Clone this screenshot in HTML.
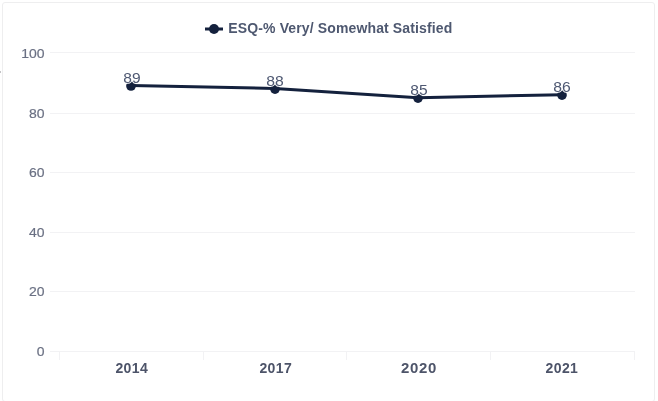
<!DOCTYPE html>
<html lang="en">
<head>
<meta charset="utf-8">
<title>ESQ-% Very/ Somewhat Satisfied</title>
<style>
  html, body { margin: 0; padding: 0; background: #ffffff; }
  body { width: 658px; height: 401px; overflow: hidden; position: relative;
         font-family: "Liberation Sans", sans-serif; }
  .card { position: absolute; left: 2px; top: 2px; width: 653px; height: 400px;
          box-sizing: border-box; border: 1px solid #eeeeef; border-radius: 3px; background: #fff; }
  .speck { position: absolute; left: 0; top: 71px; width: 1px; height: 2px; background: #c4c4c6; }
  svg { position: absolute; left: 0; top: 0; }
  text { font-family: "Liberation Sans", sans-serif; }
  .grid line { stroke: #f2f2f4; stroke-width: 1; shape-rendering: crispEdges; }
  .ticks line { stroke: #f2f2f4; stroke-width: 1; shape-rendering: crispEdges; }
  .ylab text { font-size: 13.5px; fill: #6a7083; text-anchor: end; stroke: #6a7083; stroke-width: 0.2px; }
  .xlab text { font-size: 14px; font-weight: 700; fill: #4d5469; text-anchor: middle; letter-spacing: 0.4px; }
  .dlab text { font-size: 14.4px; fill: #4e5872; text-anchor: middle;
               stroke: #ffffff; stroke-width: 1.7px; stroke-linejoin: round; paint-order: stroke fill; }
  .legend text { font-size: 14px; font-weight: 700; fill: #4e5870; letter-spacing: 0.13px; }
</style>
</head>
<body>
<div class="card"></div>
<div class="speck"></div>
<svg width="658" height="401" viewBox="0 0 658 401">
  <g class="grid">
    <line x1="50" x2="635" y1="52.5" y2="52.5"/>
    <line x1="50" x2="635" y1="113.5" y2="113.5"/>
    <line x1="50" x2="635" y1="172.5" y2="172.5"/>
    <line x1="50" x2="635" y1="232.5" y2="232.5"/>
    <line x1="50" x2="635" y1="291.5" y2="291.5"/>
    <line x1="50" x2="635" y1="351.5" y2="351.5"/>
  </g>
  <g class="ticks">
    <line x1="59.5" x2="59.5" y1="351" y2="360"/>
    <line x1="203.5" x2="203.5" y1="351" y2="360"/>
    <line x1="346.5" x2="346.5" y1="351" y2="360"/>
    <line x1="490.5" x2="490.5" y1="351" y2="360"/>
    <line x1="634.5" x2="634.5" y1="351" y2="360"/>
  </g>
  <g class="ylab">
    <text transform="translate(44.5 58) scale(1.035 1)">100</text>
    <text transform="translate(44.5 118) scale(1.035 1)">80</text>
    <text transform="translate(44.5 177) scale(1.035 1)">60</text>
    <text transform="translate(44.5 237) scale(1.035 1)">40</text>
    <text transform="translate(44.5 296) scale(1.035 1)">20</text>
    <text transform="translate(44.5 356) scale(1.035 1)">0</text>
  </g>
  <g class="xlab">
    <text x="131.8" y="373">2014</text>
    <text x="275.8" y="373">2017</text>
    <text transform="translate(419 373) scale(1.07 1)" style="letter-spacing:0.68px">2020</text>
    <text x="561.9" y="373">2021</text>
  </g>
  <g class="legend">
    <line x1="205" x2="223" y1="29" y2="29" stroke="#14213d" stroke-width="3"/>
    <circle cx="214" cy="29" r="5" fill="#14213d"/>
    <text x="228.3" y="33.15">ESQ-% Very/ Somewhat Satisfied</text>
  </g>
  <g class="series">
    <polyline points="131,85.5 275,88.5 418,97.8 562,94.7" fill="none" stroke="#14213d" stroke-width="3" stroke-linejoin="round" stroke-linecap="round"/>
    <circle cx="131" cy="86" r="4.85" fill="#14213d"/>
    <circle cx="275" cy="89.1" r="4.85" fill="#14213d"/>
    <circle cx="418" cy="98.1" r="4.85" fill="#14213d"/>
    <circle cx="562" cy="95.1" r="4.85" fill="#14213d"/>
  </g>
  <g class="dlab">
    <text transform="translate(132 83.1) scale(1.08 1)">89</text>
    <text transform="translate(275.1 86.1) scale(1.09 1)">88</text>
    <text transform="translate(418.9 95.1) scale(1.08 1)">85</text>
    <text transform="translate(562.1 92.1) scale(1.09 1)">86</text>
  </g>
</svg>
</body>
</html>
